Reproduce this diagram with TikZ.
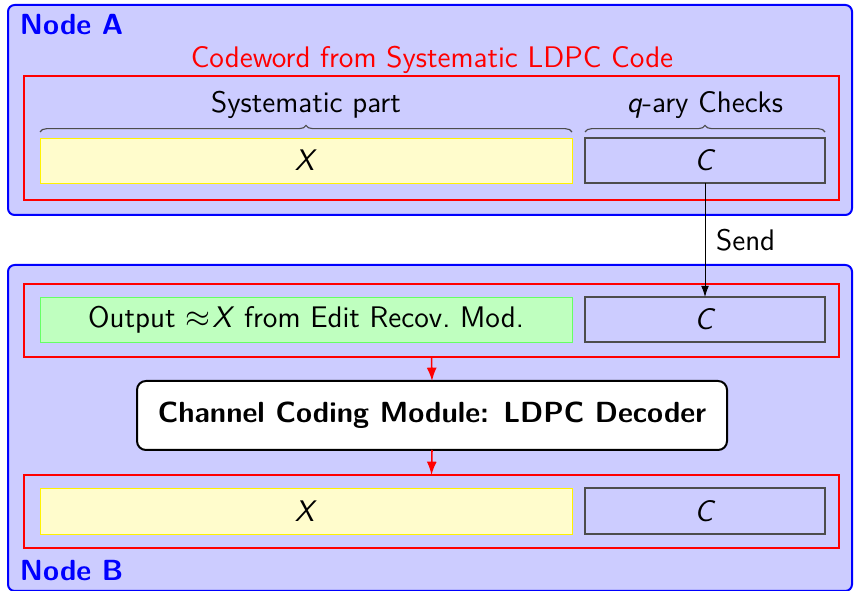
\documentclass[tikz,border=0pt]{standalone}
\usepackage{fontspec}
\usetikzlibrary{fit,decorations.pathreplacing,arrows.meta}
\begin{document}
\begin{tikzpicture}[x=0.45pt,y=-0.45pt,
  font=\sffamily\fontsize{13.4}{16}\selectfont,
  every node/.style={inner sep=0pt, outer sep=0pt},
  outerbox/.style={draw=blue, fill=blue!20, line width=0.9pt, rounded corners=3pt},
  redbox/.style={draw=red, line width=0.9pt},
  xbox/.style={draw=yellow, fill=yellow!20, line width=0.4pt},
  gbox/.style={draw=green!60, fill=green!25, line width=0.4pt},
  cbox/.style={draw=black!70, fill=blue!20, line width=0.6pt},
  decbox/.style={draw=black, fill=white, line width=0.9pt, rounded corners=4pt},
  dectext/.style={font=\sffamily\bfseries\fontsize{13.1}{16}\selectfont},
  nodelabel/.style={text=blue, font=\sffamily\bfseries\fontsize{13.1}{16}\selectfont, anchor=base west},
  brc/.style={decorate, decoration={brace, amplitude=3pt}, draw=black!70, line width=0.5pt},
  sendarrow/.style={-{Latex[length=5pt,width=3.5pt]}, line width=0.4pt},
  redarrow/.style={-{Latex[length=6pt,width=4.5pt]}, draw=red, fill=red, line width=0.7pt}
]
\useasboundingbox (0,0) rectangle (854,591);
\clip (0,0) rectangle (854,591);
% Node A
\node[outerbox, fit={(8,5) (852,215)}] (outA) {};
\node[nodelabel] (labA) at (20,35) {Node A};
\node[text=red, anchor=base] (cwtitle) at (432,68) {Codeword from Systematic LDPC Code};
\node[redbox, fit={(24,76) (839,200)}] (redA) {};
\node[xbox, fit={(40,138) (572,183)}] (xA) {};
\node (xAt) at (xA.center) {\textit{X}};
\node[cbox, fit={(585,138) (825,183)}] (cA) {};
\node (cAt) at (cA.center) {\textit{C}};
\draw[brc] (xA.north west) ++(0,-6) coordinate (bxl) -- (xA.north east |- bxl) coordinate (bxr);
\draw[brc] (cA.north west) ++(0,-6) coordinate (bcl) -- (cA.north east |- bcl) coordinate (bcr);
\node[anchor=base] (systxt) at (306,113) {Systematic part};
\node[anchor=base] (qtxt) at (705,113) {\textit{q}-ary Checks};
% Node B
\node[outerbox, fit={(8,265) (852,591)}] (outB) {};
\node[nodelabel] (labB) at (20,581) {Node B};
\node[redbox, fit={(24,284) (839,357)}] (redB1) {};
\node[gbox, fit={(40,297) (572,342)}] (gB) {};
\node (gBt) at (gB.center) {Output $\approx$\kern1pt\textit{X} from Edit Recov.\ Mod.};
\node[cbox, fit={(585,297) (825,342)}] (cB1) {};
\node (cB1t) at (cB1.center) {\textit{C}};
\node[decbox, fit={(137,381) (727,450)}] (dec) {};
\node[dectext] (dect) at (dec.center) {Channel Coding Module: LDPC Decoder};
\node[redbox, fit={(24,475) (839,548)}] (redB2) {};
\node[xbox, fit={(40,488) (572,534)}] (xB) {};
\node (xBt) at (xB.center) {\textit{X}};
\node[cbox, fit={(585,488) (825,534)}] (cB2) {};
\node (cB2t) at (cB2.center) {\textit{C}};
% connectors
\draw[sendarrow] (cA.south) -- node[right=5pt, pos=0.5] (send) {Send} (cB1.north);
\draw[redarrow] (redB1.south) -- (dec.north);
\draw[redarrow] (dec.south) -- (redB2.north);
\end{tikzpicture}
\end{document}
